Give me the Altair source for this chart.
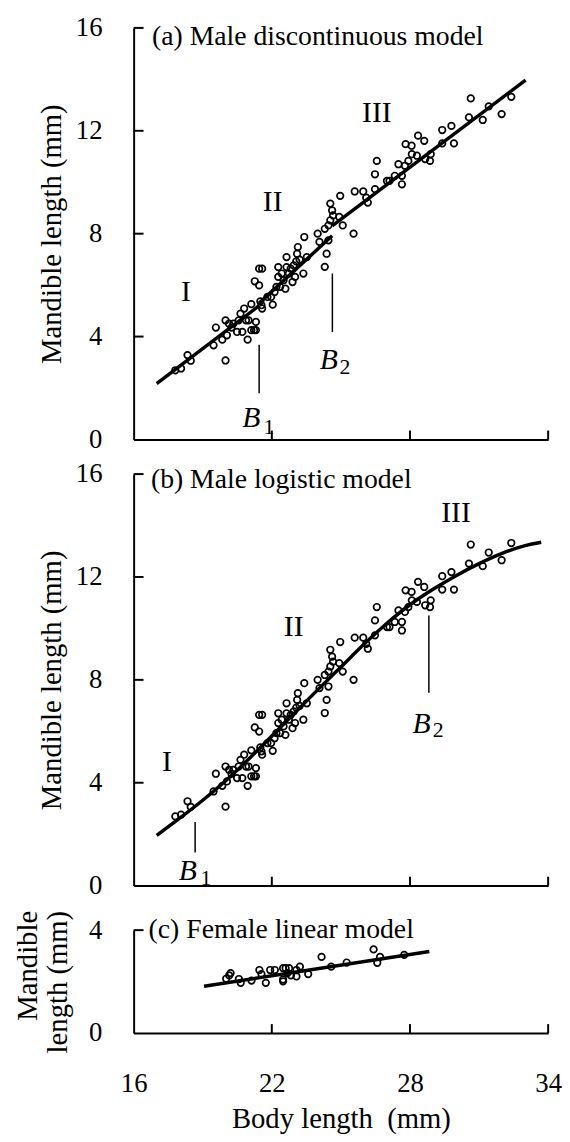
import altair as alt
import pandas as pd

FONT = "Liberation Serif"
BLACK = "#000000"

# ---------------- data ----------------
male_x = [32.40, 31.98, 31.42, 31.16, 30.64, 30.56, 29.91, 29.80, 29.40, 29.40,
          28.90, 28.87, 28.62, 28.66, 28.35, 28.30, 28.08, 28.07, 27.81, 27.93,
          27.78, 27.65, 27.65, 27.50, 27.34, 27.11, 27.00, 26.56, 26.48, 26.48,
          25.97, 26.10, 26.17, 25.60, 24.97, 24.54,
          24.66, 24.93, 25.08, 25.55, 24.54, 24.46, 24.30, 23.99, 24.07, 24.46,
          24.38, 24.30, 24.62,
          23.41, 23.13, 23.10, 23.52, 23.21, 23.06, 22.64, 22.95, 22.82, 22.64,
          22.28, 22.43, 22.74, 23.37, 23.01, 22.28, 22.51, 22.90, 22.20, 22.36,
          22.59, 22.12, 21.81, 21.97, 22.04, 21.45, 21.58, 21.26, 21.45, 21.50,
          21.55, 21.58,
          21.11, 20.80, 20.64, 20.88, 20.56, 20.99, 21.31, 20.33, 20.49, 20.72,
          20.95, 21.11, 21.23, 21.31, 20.14, 20.05, 20.25, 19.99, 19.85, 19.99,
          19.57, 19.47, 18.48, 18.34, 18.06, 17.81]
male_y = [13.32, 12.65, 12.95, 12.42, 13.26, 12.52, 11.51, 12.19, 12.03, 11.51,
          11.09, 10.83, 11.61, 10.90, 11.81, 11.03, 11.09, 11.42, 11.48, 10.83,
          10.64, 10.25, 9.92, 10.70, 10.25, 10.05, 10.05, 10.83, 10.31, 9.73,
          9.64, 9.40, 9.21, 9.64, 9.47, 9.17,
          8.71, 8.65, 8.32, 8.00, 8.52, 8.32, 8.19, 8.00, 7.68, 7.74,
          7.22, 6.71, 8.90,
          7.87, 7.48, 7.22, 7.09, 6.99, 6.92, 7.09, 6.77, 6.64, 6.70,
          6.70, 6.45, 6.45, 6.45, 6.32, 6.32, 6.19, 6.12, 5.93, 5.93,
          5.86, 5.73, 5.54, 5.54, 5.24, 6.64, 6.64, 6.15, 5.99, 5.37,
          5.22, 5.09,
          5.26, 5.09, 4.89, 4.63, 4.63, 4.63, 4.57, 4.50, 4.18, 4.18,
          3.88, 4.25, 4.25, 4.25, 4.50, 4.05, 4.35, 4.63, 3.88, 3.07,
          4.35, 3.66, 3.06, 3.28, 2.76, 2.69]

fem_x = [20.02, 20.15, 20.21, 20.57, 20.65, 21.12, 21.46, 21.55, 21.74, 21.93,
         22.13, 22.49, 22.49, 22.49, 22.60, 22.68, 22.75, 22.83, 23.07, 23.07,
         23.22, 23.58, 24.16, 24.58, 25.25, 26.42, 26.58, 26.70, 27.75]
fem_y = [2.11, 2.24, 2.33, 2.10, 1.95, 2.04, 2.45, 2.29, 1.95, 2.45,
         2.45, 2.52, 2.08, 2.01, 2.52, 2.33, 2.52, 2.24, 2.20, 2.45,
         2.58, 2.29, 2.96, 2.58, 2.74, 3.25, 2.73, 2.96, 3.04]

# (a) discontinuous model: three straight phases
disc_phase = ["I", "I", "II", "II", "III", "III"]
disc_x = [17.0, 21.45, 21.45, 24.62, 24.62, 33.02]
disc_y = [2.17, 5.20, 5.30, 7.92, 8.30, 13.97]

# (b) logistic model curve
log_x = [17.0, 18.0, 19.0, 20.0, 21.0, 22.0, 23.0, 24.0, 25.0, 26.0,
         27.0, 28.0, 29.0, 30.0, 31.0, 32.0, 33.0, 33.7]
log_y = [1.95, 2.62, 3.32, 4.08, 4.92, 5.82, 6.72, 7.62, 8.50, 9.38,
         10.20, 10.92, 11.52, 12.05, 12.52, 12.92, 13.22, 13.35]

# (c) female linear model
fem_line_x = [19.06, 28.84]
fem_line_y = [1.82, 3.17]

x_ticks = [16, 22, 28, 34]
x_inner_ticks = [22, 28, 34]
y_ticks_male = [0, 4, 8, 12, 16]
y_ticks_fem = [0, 4]

# breakpoints B1, B2 (x, y from, y to) and labels
bp_a_x = [21.45, 24.63]
bp_a_y1 = [1.80, 4.18]
bp_a_y2 = [3.68, 6.45]
bl_a_x = [21.11, 24.47]
bl_a_y = [0.50, 2.72]
bs_a_text = ["1", "2"]
bs_a_x = [21.88, 25.18]
bs_a_y = [0.20, 2.55]

bp_b_x = [18.67, 28.82]
bp_b_y1 = [1.29, 7.50]
bp_b_y2 = [2.47, 10.50]
bl_b_x = [18.35, 28.50]
bl_b_y = [0.20, 5.92]
bs_b_text = ["1", "2"]
bs_b_x = [19.14, 29.22]
bs_b_y = [0.02, 5.77]

roman_a_text = ["I", "II", "III"]
roman_a_x = [18.27, 22.04, 26.56]
roman_a_y = [5.74, 9.23, 12.68]
roman_b_text = ["I", "II", "III"]
roman_b_x = [17.45, 22.95, 30.0]
roman_b_y = [4.82, 10.05, 14.5]

titles = ["(a) Male discontinuous model", "(b) Male logistic model", "(c) Female linear model"]
title_x = [16.80, 16.75, 16.65]
title_y = [15.65, 15.75, 4.00]

# ---------------- layout constants ----------------
W = 419
H_M = 416
H_C = 114      # panel c cell; plot occupies lower 104 px
C_TOP = 10
TY = 10        # inward y tick length (px)
TX = 9         # inward x tick length (px)

xscale = alt.Scale(domain=[16, 34], nice=False, zero=False)


def x_axis(show):
    if show:
        return alt.Axis(values=x_ticks, ticks=False, tickSize=0, labelPadding=38,
                        labelFlush=False, labelFont=FONT, labelFontSize=27,
                        labelColor=BLACK, domainColor=BLACK, domainWidth=2,
                        grid=False, title="Body length\u00a0 (mm)", titleFont=FONT,
                        titleFontSize=29, titleFontWeight="normal", titleColor=BLACK,
                        titlePadding=8)
    return alt.Axis(values=x_ticks, ticks=False, tickSize=0, labels=False,
                    domainColor=BLACK, domainWidth=2, grid=False, title=None)


def y_axis(values, title, tx, lh=None, align=None, ty=None):
    kw = dict(values=values, ticks=False, tickSize=0, labelPadding=32,
              labelFont=FONT, labelFontSize=27, labelColor=BLACK,
              domainColor=BLACK, domainWidth=2, grid=False, title=title,
              titleFont=FONT, titleFontSize=29, titleFontWeight="normal",
              titleColor=BLACK, titleX=tx, titleBaseline="alphabetic")
    if lh is not None:
        kw["titleLineHeight"] = lh
    if align is not None:
        kw["titleAlign"] = align
    if ty is not None:
        kw["titleY"] = ty
    return alt.Axis(**kw)


def panel(idx, pts, line, yscale, xax, yax, yticks, height, bps=None, blabels=None,
          bsubs=None, romans=None):
    X = lambda f="x:Q": alt.X(f, scale=xscale, axis=xax)
    Y = lambda f="y:Q": alt.Y(f, scale=yscale, axis=yax)

    layers = []
    layers.append(alt.Chart(pts).mark_point(shape="circle", filled=False, size=44,
                                            strokeWidth=1.7, color=BLACK, opacity=1)
                  .encode(x=X(), y=Y()))
    layers.append(line(X, Y))
    layers.append(alt.Chart(pd.DataFrame({"y": [v for v in yticks if v > 0]}))
                  .mark_rule(color=BLACK, strokeWidth=2)
                  .encode(y=Y(), x=alt.value(0), x2=alt.value(TY)))
    layers.append(alt.Chart(pd.DataFrame({"x": x_inner_ticks}))
                  .mark_rule(color=BLACK, strokeWidth=2)
                  .encode(x=X(), y=alt.value(height), y2=alt.value(height - TX)))
    if bps is not None:
        layers.append(alt.Chart(bps).mark_rule(color=BLACK, strokeWidth=1.5)
                      .encode(x=X(), y=Y(), y2="y2:Q"))
        layers.append(alt.Chart(blabels).mark_text(font=FONT, fontSize=30, fontStyle="italic",
                                                   baseline="alphabetic", color=BLACK)
                      .encode(x=X(), y=Y(), text="t:N"))
        layers.append(alt.Chart(bsubs).mark_text(font=FONT, fontSize=22,
                                                 baseline="alphabetic", color=BLACK)
                      .encode(x=X(), y=Y(), text="t:N"))
    if romans is not None:
        layers.append(alt.Chart(romans).mark_text(font=FONT, fontSize=30,
                                                  baseline="middle", color=BLACK)
                      .encode(x=X(), y=Y(), text="t:N"))
    tdf = pd.DataFrame({"x": [title_x[idx]], "y": [title_y[idx]], "t": [titles[idx]]})
    layers.append(alt.Chart(tdf).mark_text(font=FONT, fontSize=28, align="left",
                                           baseline="middle", color=BLACK)
                  .encode(x=X(), y=Y(), text="t:N"))
    return alt.layer(*layers).properties(width=W, height=height)


male_df = pd.DataFrame({"x": male_x, "y": male_y})
fem_df = pd.DataFrame({"x": fem_x, "y": fem_y})

ys_m = alt.Scale(domain=[0, 16], nice=False, zero=False)
ys_c = alt.Scale(domain=[0, 4], nice=False, zero=False, range=[H_C, C_TOP])

# panel a
disc_df = pd.DataFrame({"x": disc_x, "y": disc_y, "p": disc_phase})
line_a = lambda X, Y: alt.Chart(disc_df).mark_line(color=BLACK, strokeWidth=3.5).encode(
    x=X(), y=Y(), detail="p:N")
pa = panel(0, male_df, line_a, ys_m, x_axis(False),
           y_axis(y_ticks_male, "Mandible length (mm)", -74), y_ticks_male, H_M,
           bps=pd.DataFrame({"x": bp_a_x, "y": bp_a_y1, "y2": bp_a_y2}),
           blabels=pd.DataFrame({"x": bl_a_x, "y": bl_a_y, "t": ["B", "B"]}),
           bsubs=pd.DataFrame({"x": bs_a_x, "y": bs_a_y, "t": bs_a_text}),
           romans=pd.DataFrame({"x": roman_a_x, "y": roman_a_y, "t": roman_a_text}))

# panel b
log_df = pd.DataFrame({"x": log_x, "y": log_y})
line_b = lambda X, Y: alt.Chart(log_df).mark_line(color=BLACK, strokeWidth=3.5,
                                                  interpolate="monotone").encode(x=X(), y=Y())
pb = panel(1, male_df, line_b, ys_m, x_axis(False),
           y_axis(y_ticks_male, "Mandible length (mm)", -74), y_ticks_male, H_M,
           bps=pd.DataFrame({"x": bp_b_x, "y": bp_b_y1, "y2": bp_b_y2}),
           blabels=pd.DataFrame({"x": bl_b_x, "y": bl_b_y, "t": ["B", "B"]}),
           bsubs=pd.DataFrame({"x": bs_b_x, "y": bs_b_y, "t": bs_b_text}),
           romans=pd.DataFrame({"x": roman_b_x, "y": roman_b_y, "t": roman_b_text}))

# panel c
fl_df = pd.DataFrame({"x": fem_line_x, "y": fem_line_y})
line_c = lambda X, Y: alt.Chart(fl_df).mark_line(color=BLACK, strokeWidth=3.5).encode(
    x=X(), y=Y())
pc = panel(2, fem_df, line_c, ys_c, x_axis(True),
           y_axis(y_ticks_fem, ["Mandible", "length (mm)"], -98, lh=30, align="right", ty=-10),
           y_ticks_fem, H_C)

chart = alt.vconcat(pa, pb, pc, spacing=35, bounds="flush").properties(
    padding={"left": 5, "top": 0, "right": 0, "bottom": 0}
).configure_view(stroke=None).configure_axis(
    labelFont=FONT, titleFont=FONT, labelColor=BLACK, titleColor=BLACK
).configure_text(font=FONT)

chart.save("out.html", embed_options={"renderer": "svg", "actions": False})
